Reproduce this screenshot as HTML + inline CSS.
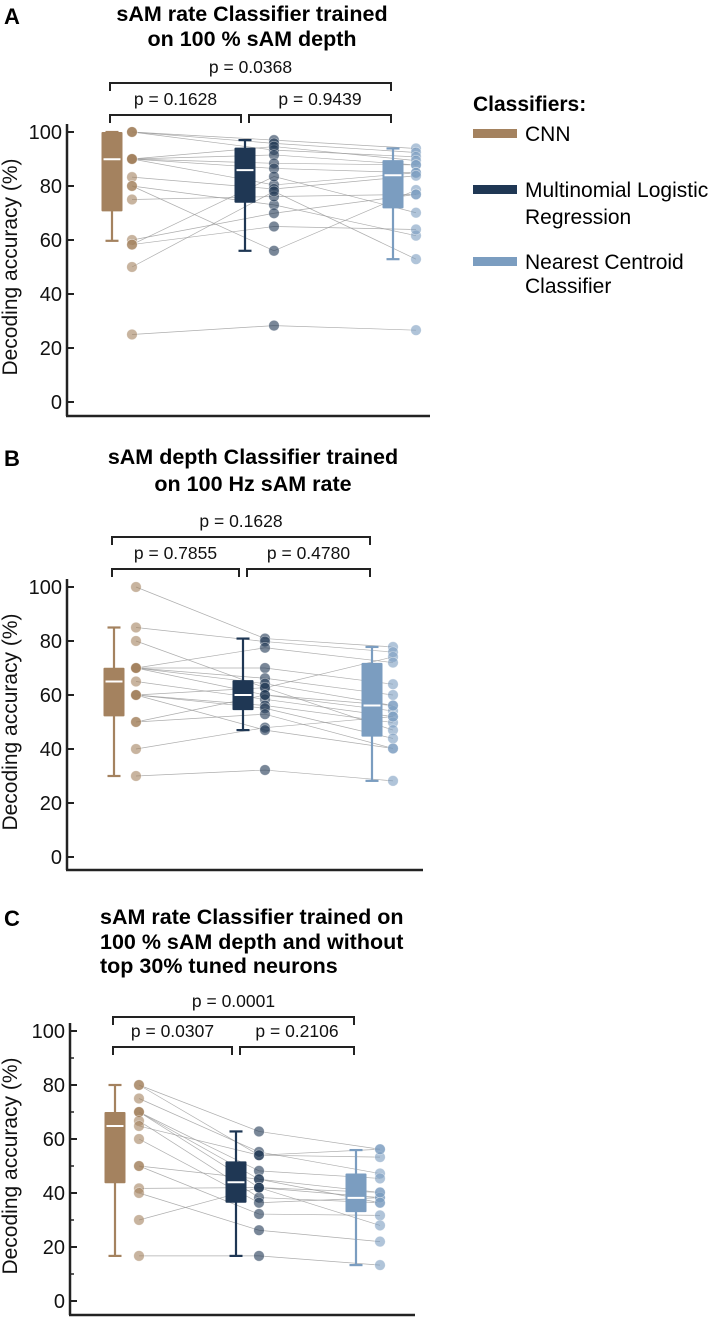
<!DOCTYPE html>
<html><head><meta charset="utf-8"><style>
html,body{margin:0;padding:0;background:#fff;}
svg{display:block;font-family:"Liberation Sans",Arial,sans-serif;}
</style></head><body>
<svg id="chart" width="714" height="1319" viewBox="0 0 714 1319" xmlns="http://www.w3.org/2000/svg">
<g id="static">
<text x="4" y="24" font-size="22" font-weight="bold">A</text>
<text x="252" y="21" font-size="21.5" font-weight="bold" text-anchor="middle"><tspan x="252">sAM rate Classifier trained</tspan><tspan x="252" dy="25">on 100 % sAM depth</tspan></text>
<text x="4" y="466" font-size="22" font-weight="bold">B</text>
<text x="253" y="464" font-size="21.5" font-weight="bold" text-anchor="middle"><tspan x="253">sAM depth Classifier trained</tspan><tspan x="253" dy="27">on 100 Hz sAM rate</tspan></text>
<text x="4" y="926" font-size="22" font-weight="bold">C</text>
<text x="100" y="924" font-size="21.5" font-weight="bold"><tspan x="100">sAM rate Classifier trained on</tspan><tspan x="100" dy="25">100 % sAM depth and without</tspan><tspan x="100" dy="24">top 30% tuned neurons</tspan></text>
<g>
<text x="473" y="111" font-size="21" font-weight="bold">Classifiers:</text>
<rect x="473" y="129" width="44" height="9" fill="#a4825f"/>
<text x="525" y="141" font-size="21">CNN</text>
<rect x="473" y="185" width="44" height="9" fill="#1f3754"/>
<text x="525" y="197" font-size="21"><tspan x="525">Multinomial Logistic</tspan><tspan x="525" dy="27">Regression</tspan></text>
<rect x="473" y="257" width="44" height="9" fill="#7b9dc0"/>
<text x="525" y="269" font-size="21"><tspan x="525">Nearest Centroid</tspan><tspan x="525" dy="24">Classifier</tspan></text>
</g>
</g>
</svg>
<script>
// ---- data ----
const ticks = [0, 20, 40, 60, 80, 100];
const classifiers = ["CNN", "Multinomial Logistic Regression", "Nearest Centroid Classifier"];
// Panel A paired subjects
const aCnn = [100,100,100,90,90,90,90,90,83.3,80,80,75,60,58.3,58.3,50,25];
const aMlr = [97,95.8,93.3,94.6,91.5,88.4,86.5,80.4,78.9,56,73,76.1,69.9,83.5,65,78,28.3];
const aNcc = [93.9,92.4,90.8,89.4,87.8,87.8,84.9,84.9,83.8,78.5,61.6,76.9,76.9,70.1,63.9,52.9,26.6];
// box stats: [whiskerLow, q1, median, q3, whiskerHigh]
const aBoxCnn = [59.7,70.6,89.9,100,100];
const aBoxMlr = [56,73.8,85.9,94.2,97];
const aBoxNcc = [52.9,71.7,84,89.6,93.9];
const aPvals = ["p = 0.0368","p = 0.1628","p = 0.9439"];
// Panel B
const bCnn = [100,85,80,70,70,70,70,70,65,60,60,60,50,50,40,30,60];
const bMlr = [80.9,79.8,62.7,77.5,70,66.2,64.2,60,58.4,56.1,62.7,55.1,52.9,60,47.9,32.2,47];
const bNcc = [77.8,75.9,74.1,72,64,60,56.1,54.1,52,49.8,47,43.9,40.2,56.1,52,28.2,40.2];
const bBoxCnn = [30,52.1,65,70.1,85];
const bBoxMlr = [47,54.4,60,65.5,80.9];
const bBoxNcc = [28.2,44.6,56.1,71.9,77.8];
const bPvals = ["p = 0.1628","p = 0.7855","p = 0.4780"];
// Panel C
const cCnn = [80,80,75,70,70,70,66.7,64.8,60,50,50,41.7,40,30,16.7];
const cMlr = [62.8,54,55.2,48.2,45.1,42,38.3,54,36.4,45.1,32.2,42,26.2,42,16.7];
const cNcc = [56.2,53.3,47.2,45.4,40.2,38.3,36.4,56.2,38.3,36.4,31.7,28,22,40.2,13.3];
const cBoxCnn = [16.7,43.6,64.8,70,80];
const cBoxMlr = [16.7,36.4,44,51.7,62.8];
const cBoxNcc = [13.3,32.9,38.2,47.2,55.9];
const cPvals = ["p = 0.0001","p = 0.0307","p = 0.2106"];

const NS = "http://www.w3.org/2000/svg";
const svg = document.getElementById("chart");
const colors = ["#a4825f", "#1f3754", "#7b9dc0"];
const keys = ["cnn","mlr","ncc"];
function mk(tag, attrs, parent) {
  const e = document.createElementNS(NS, tag);
  for (const k in attrs) e.setAttribute(k, attrs[k]);
  (parent || svg).appendChild(e);
  return e;
}
function drawPanel(id, L, series, boxes, pvals) {
  const g = mk("g", {});
  
  
  const y = v => L.y0 - (v / 100) * (L.y0 - L.y100);
  const ax = mk("line", {x1: L.ax, y1: L.y100 - 8, x2: L.ax, y2: L.ab, stroke: "#222", "stroke-width": 2.5}, g);
  
  
  const bx = mk("line", {x1: L.ax - 1, y1: L.ab, x2: L.ar, y2: L.ab, stroke: "#222", "stroke-width": 2.5}, g);
  
  
  ticks.forEach(t => {
    const tl = mk("line", {x1: L.ax, y1: y(t), x2: L.ax + 7, y2: y(t), stroke: "#222", "stroke-width": 2}, g);
    
    
    const tx = mk("text", {x: L.ax - 5, y: y(t) + 7, "font-size": 20, "text-anchor": "end", fill: "#111"}, g);
    tx.textContent = t;
    
    
    if (L.minor && t < 100) {
      const ml = mk("line", {x1: L.ax, y1: y(t + 10), x2: L.ax + 4, y2: y(t + 10), stroke: "#222", "stroke-width": 1.5}, g);
      
      
    }
  });
  const yt = mk("text", {x: 0, y: 0, "font-size": 21, "text-anchor": "middle", fill: "#111",
    transform: `translate(17,${(L.y0 + L.y100) / 2}) rotate(-90)`}, g);
  yt.textContent = "Decoding accuracy (%)";
  
  
  const n = series[0].length;
  for (let i = 0; i < n; i++) {
    const pl = mk("polyline", {points: `${L.dx[0]},${y(series[0][i])} ${L.dx[1]},${y(series[1][i])} ${L.dx[2]},${y(series[2][i])}`,
      fill: "none", stroke: "#999", "stroke-width": 0.7, opacity: 0.8}, g);
    
    
  }
  boxes.forEach((b, k) => {
    const cx = L.bx[k], c = colors[k], w = 21;
    const wl = mk("line", {x1: cx, y1: y(b[0]), x2: cx, y2: y(b[4]), stroke: c, "stroke-width": 2.2}, g);
    
    
    [b[0], b[4]].forEach(v => {
      const cap = mk("line", {x1: cx - 6.5, y1: y(v), x2: cx + 6.5, y2: y(v), stroke: c, "stroke-width": 2.2}, g);
      
      
    });
    const r = mk("rect", {x: cx - w / 2, y: y(b[3]), width: w, height: y(b[1]) - y(b[3]), fill: c, rx: 1}, g);
    
    
    const m = mk("line", {x1: cx - w / 2 + 2, y1: y(b[2]), x2: cx + w / 2 - 2, y2: y(b[2]), stroke: "#fff", "stroke-width": 2}, g);
    
    
  });
  series.forEach((s, k) => {
    s.forEach(v => {
      const d = mk("circle", {cx: L.dx[k], cy: y(v), r: 5.3, fill: colors[k], "fill-opacity": 0.6, stroke: "#fff", "stroke-width": 0.6, "stroke-opacity": 0.5}, g);
      
      
    });
  });
  const br = [[L.bx[0] - 2, L.bx[2] - 2, L.brTop], [L.bx[0] - 2, L.bx[1] - 4, L.brLow], [L.bx[1] + 4, L.bx[2] - 2, L.brLow]];
  br.forEach((q, i) => {
    const p = mk("polyline", {points: `${q[0]},${q[2] + 8} ${q[0]},${q[2]} ${q[1]},${q[2]} ${q[1]},${q[2] + 8}`, fill: "none", stroke: "#222", "stroke-width": 2}, g);
    
    
    const t = mk("text", {x: (q[0] + q[1]) / 2, y: q[2] - 10, "font-size": 17.5, "text-anchor": "middle", fill: "#111"}, g);
    t.textContent = pvals[i];
    
    
  });
}
drawPanel("a", {y100: 132, y0: 402, ax: 67, ar: 430, ab: 416, bx: [112, 245, 393], dx: [132, 274, 416], brTop: 83, brLow: 115},
  [aCnn, aMlr, aNcc], [aBoxCnn, aBoxMlr, aBoxNcc], aPvals);
drawPanel("b", {y100: 587, y0: 857, ax: 67, ar: 423, ab: 870, bx: [114, 243, 372], dx: [136, 265, 393], brTop: 537, brLow: 569},
  [bCnn, bMlr, bNcc], [bBoxCnn, bBoxMlr, bBoxNcc], bPvals);
drawPanel("c", {y100: 1031, y0: 1301, ax: 70, ar: 415, ab: 1315, bx: [115, 236, 356], dx: [139, 259, 380], minor: true, brTop: 1017, brLow: 1047},
  [cCnn, cMlr, cNcc], [cBoxCnn, cBoxMlr, cBoxNcc], cPvals);
</script>
</body></html>
